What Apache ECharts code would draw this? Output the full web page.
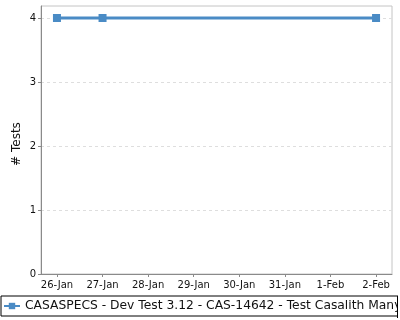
<!DOCTYPE html>
<html>
<head>
<meta charset="utf-8">
<script src="https://cdn.jsdelivr.net/npm/echarts@6/dist/echarts.min.js"></script>
<style>html,body{margin:0;padding:0;background:#fff}#c{width:400px;height:320px}</style>
</head>
<body>
<div id="c"></div>
<script>
var dates = ['26-Jan', '27-Jan', '28-Jan', '29-Jan', '30-Jan', '31-Jan', '1-Feb', '2-Feb'];
var tests = [4, 4, null, null, null, null, null, 4];
var yTicks = [0, 1, 2, 3, 4];
var seriesName = 'CASASPECS - Dev Test 3.12 - CAS-14642 - Test Casalith Many Platforms';

var idx = dates.map(function (d, i) { return i; });
var points = [];
tests.forEach(function (v, i) { if (v !== null) points.push([i, v]); });

var FONT = 'DejaVu Sans';
var chart = echarts.init(document.getElementById('c'), null, { renderer: 'canvas' });
chart.setOption({
  animation: false,
  backgroundColor: '#ffffff',
  grid: { left: 41, top: 6, width: 351, height: 268, show: true, borderColor: '#c4c4c4', borderWidth: 1, backgroundColor: '#ffffff' },
  xAxis: {
    type: 'value', min: -0.35, max: idx.length - 1 + 0.35,
    axisLine: { show: true, onZero: false, lineStyle: { color: '#8a8a8a', width: 1 } },
    axisTick: { show: true, length: 3, customValues: idx, lineStyle: { color: '#8a8a8a' } },
    axisLabel: { customValues: idx, margin: 6, color: '#111', fontFamily: FONT, fontSize: 10,
      formatter: function (v) { return dates[Math.round(v)]; } },
    splitLine: { show: false }
  },
  yAxis: {
    type: 'value', min: 0, max: 4.1875, interval: 1,
    name: '# Tests', nameLocation: 'middle', nameGap: 18, nameMoveOverlap: false,
    nameTextStyle: { color: '#111', fontFamily: FONT, fontSize: 12, padding: [0, 8, 0, 0] },
    axisLine: { show: true, onZero: false, lineStyle: { color: '#8a8a8a', width: 1 } },
    axisTick: { show: true, length: 3, customValues: yTicks, lineStyle: { color: '#8a8a8a' } },
    axisLabel: { customValues: yTicks, margin: 5, color: '#111', fontFamily: FONT, fontSize: 10 },
    splitLine: { show: true, lineStyle: { color: '#dedede', type: [3, 3], width: 1 } }
  },
  legend: {
    data: [seriesName], left: 1, top: 296, orient: 'horizontal',
    borderColor: '#000', borderWidth: 1, padding: [4, 6, 4, 2],
    itemWidth: 16, itemHeight: 8, itemGap: 4,
    textStyle: { color: '#111', fontFamily: FONT, fontSize: 12.3 }
  },
  series: [{
    name: seriesName, type: 'line', data: points,
    symbol: 'rect', symbolSize: 8,
    lineStyle: { color: '#4a8bc5', width: 3 },
    itemStyle: { color: '#4a8bc5' },
    z: 3
  }],
  graphic: [
    { type: 'rect', z: 100, shape: { x: 398, y: 290, width: 10, height: 30 }, style: { fill: '#ffffff' } },
    { type: 'line', z: 101, shape: { x1: 397.5, y1: 296, x2: 397.5, y2: 318 }, style: { stroke: '#000', lineWidth: 1 } }
  ]
});
</script>
</body>
</html>
